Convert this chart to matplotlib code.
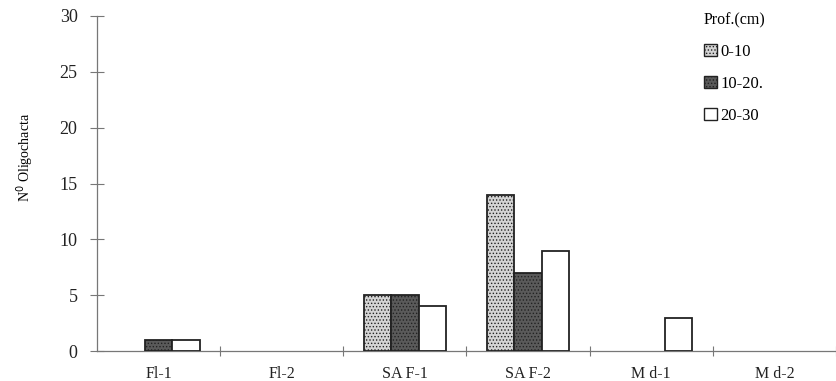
import matplotlib
matplotlib.use("Agg")
import matplotlib.pyplot as plt
from matplotlib.patches import Patch
import numpy as np

categories = ["Fl-1", "Fl-2", "SA F-1", "SA F-2", "M d-1", "M d-2"]
series_names = ["0-10", "10-20.", "20-30"]
v_0_10 = [0, 0, 5, 14, 0, 0]
v_10_20 = [1, 0, 5, 7, 0, 0]
v_20_30 = [1, 0, 4, 9, 3, 0]
yticks = [0, 5, 10, 15, 20, 25, 30]

plt.rcParams['font.family'] = ['Liberation Serif', 'DejaVu Serif']
plt.rcParams['hatch.linewidth'] = 0.6

fig = plt.figure(figsize=(8.36, 3.81), dpi=100)
ax = fig.add_axes([97/836, 1 - 351/381, 1 - 97/836, (351 - 16)/381])

x = np.arange(len(categories))
w = 0.222
styles = [
    dict(facecolor='#d4d4d4', hatch='.....'),
    dict(facecolor='#5a5a5a', hatch='.....'),
    dict(facecolor='white', hatch=None),
]
data = [v_0_10, v_10_20, v_20_30]
handles = []
for i, (vals, name, st) in enumerate(zip(data, series_names, styles)):
    bars = ax.bar(x + (i - 1) * w, vals, width=w,
                  facecolor=st['facecolor'], edgecolor='#222222',
                  linewidth=1.3, hatch=st['hatch'], zorder=3)
    for b, v in zip(bars, vals):
        if v == 0:
            b.set_visible(False)
    handles.append(Patch(facecolor=st['facecolor'], edgecolor='#222222',
                         linewidth=1.0, hatch=st['hatch'], label=name))

ax.set_ylim(0, 30)
ax.set_xlim(-0.5, 5.46)
ax.set_yticks(yticks)
ax.set_yticklabels([str(t) for t in yticks], fontsize=13)
ax.set_xticks(x)
ax.set_xticklabels(categories, fontsize=11.5)
ax.tick_params(axis='x', length=0, pad=11, colors='#222222')
ax.tick_params(axis='y', direction='inout', length=10, width=0.8, pad=9, colors='#222222', color='#777777')
ax.set_xticks(np.arange(-0.5, 6, 1.0)[1:], minor=True)
ax.tick_params(axis='x', which='minor', direction='inout', length=7, width=0.8, color='#777777')

for s in ['top', 'right']:
    ax.spines[s].set_visible(False)
for s in ['left', 'bottom']:
    ax.spines[s].set_color('#777777')
    ax.spines[s].set_linewidth(0.9)

fig.text(25/836, 1 - 157/381, "N$^{0}$ Oligochacta", rotation=90, ha='center', va='center', fontsize=10)

leg = ax.legend(handles=handles, title="Prof.(cm)", loc='upper left', bbox_to_anchor=(704/836, 1 - 12/381),
                bbox_transform=fig.transFigure, frameon=False, fontsize=12,
                title_fontsize=11.5, handlelength=0.75, handleheight=0.75,
                handletextpad=0.25, labelspacing=0.95, borderaxespad=0, borderpad=0)
leg._legend_box.align = "left"

fig.savefig("out.png", dpi=100)
